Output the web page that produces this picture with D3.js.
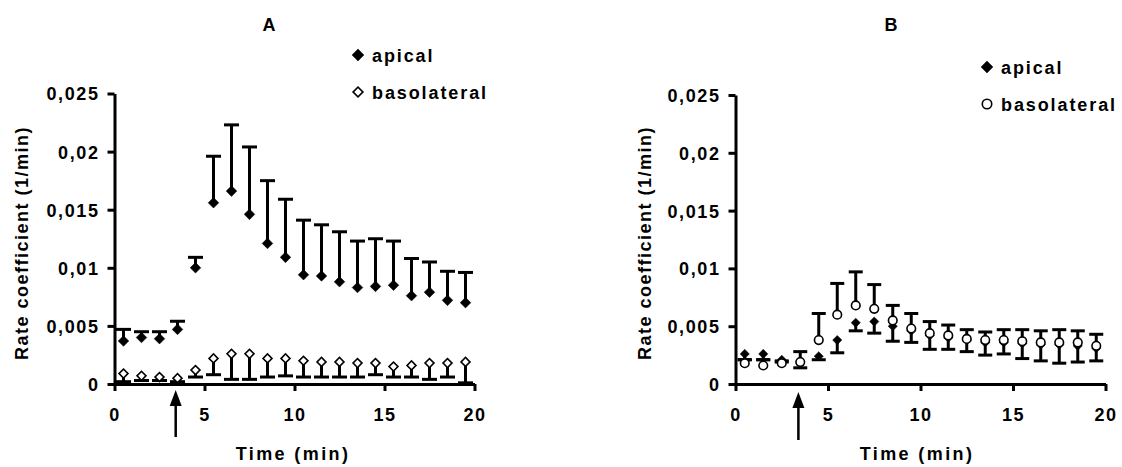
<!DOCTYPE html>
<html>
<head>
<meta charset="utf-8">
<script src="https://cdn.jsdelivr.net/npm/d3@7"></script>
<style>
  body { margin: 0; background: #fff; }
  svg text { font-family: Arial, "Liberation Sans", sans-serif; font-weight: bold; fill: #000; }
</style>
</head>
<body>
<div id="chart"></div>
<script>
// time points (min)
var times = [0.5, 1.5, 2.5, 3.5, 4.5, 5.5, 6.5, 7.5, 8.5, 9.5,
             10.5, 11.5, 12.5, 13.5, 14.5, 15.5, 16.5, 17.5, 18.5, 19.5];

// panel A
var aApical     = [0.0037, 0.0040, 0.0039, 0.0047, 0.0100, 0.0156, 0.0166, 0.0146, 0.0121, 0.0109,
                   0.0094, 0.0093, 0.0088, 0.0083, 0.0084, 0.0085, 0.0076, 0.0079, 0.0072, 0.0070];
var aApicalHigh = [0.0047, 0.0045, 0.0045, 0.0054, 0.0109, 0.0196, 0.0223, 0.0204, 0.0175, 0.0159,
                   0.0141, 0.0137, 0.0131, 0.0123, 0.0125, 0.0123, 0.0108, 0.0105, 0.0097, 0.0096];
var aBaso       = [0.0009, 0.0007, 0.0006, 0.0005, 0.0012, 0.0022, 0.0026, 0.0026, 0.0022, 0.0022,
                   0.0020, 0.0019, 0.0019, 0.0018, 0.0018, 0.0015, 0.0016, 0.0018, 0.0018, 0.0019];
var aBasoLow    = [0.0002, 0.0003, 0.0003, 0.0002, 0.0006, 0.0008, 0.0004, 0.0004, 0.0006, 0.0007,
                   0.0006, 0.0006, 0.0006, 0.0006, 0.0008, 0.0006, 0.0006, 0.0004, 0.0006, 0.0001];

// panel B
var bApical     = [0.0026, 0.0026, 0.0021, 0.0019, 0.0024, 0.0038, 0.0053, 0.0054, 0.0050, 0.0046,
                   0.0042, 0.0040, 0.0038, 0.0036, 0.0036, 0.0035, 0.0034, 0.0034, 0.0033, 0.0031];
var bApicalLow  = [0.0021, 0.0021, 0.0019, 0.0014, 0.0021, 0.0027, 0.0046, 0.0044, 0.0037, 0.0036,
                   0.0030, 0.0030, 0.0028, 0.0025, 0.0026, 0.0022, 0.0020, 0.0018, 0.0019, 0.0020];
var bBaso       = [0.0018, 0.0016, 0.0018, 0.0019, 0.0038, 0.0060, 0.0068, 0.0065, 0.0055, 0.0048,
                   0.0044, 0.0042, 0.0039, 0.0038, 0.0038, 0.0037, 0.0036, 0.0036, 0.0036, 0.0033];
var bBasoHigh   = [0.0021, 0.0021, 0.0020, 0.0028, 0.0061, 0.0087, 0.0097, 0.0086, 0.0068, 0.0061,
                   0.0054, 0.0051, 0.0047, 0.0045, 0.0047, 0.0047, 0.0046, 0.0047, 0.0046, 0.0043];

var xTicks = [0, 5, 10, 15, 20];
var yTicks = [0, 0.005, 0.01, 0.015, 0.02, 0.025];
var arrowTime = 3.4;
var seriesNames = ["apical", "basolateral"];

var width = 1122,
    height = 467;

var svg = d3.select("#chart").append("svg")
    .attr("width", width)
    .attr("height", height);

var fmt = d3.formatLocale({decimal: ",", thousands: ".", grouping: [3], currency: ["", ""]}).format("~g");

var diamond = d3.symbol().type(d3.symbolSquare);

function drawPanel(cfg) {
  var g = svg.append("g");

  var x = d3.scaleLinear().domain([0, 20]).range(cfg.xr);
  var y = d3.scaleLinear().domain([0, 0.025]).range(cfg.yr);

  // title
  g.append("text")
      .attr("x", cfg.titleX).attr("y", 31)
      .attr("text-anchor", "middle")
      .style("font-size", "18px")
      .text(cfg.title);

  // axes
  var xAxis = g.append("g")
      .attr("transform", "translate(0," + cfg.yr[0] + ")")
      .call(d3.axisBottom(x).tickValues(xTicks).tickSize(7).tickPadding(17).tickSizeOuter(0));
  var yAxis = g.append("g")
      .attr("transform", "translate(" + cfg.xr[0] + ",0)")
      .call(d3.axisLeft(y).tickValues(yTicks).tickFormat(fmt).tickSize(7).tickPadding(8).tickSizeOuter(0));

  [xAxis, yAxis].forEach(function(ax) {
    ax.select(".domain").attr("stroke", "#000").attr("stroke-width", 3);
    ax.selectAll(".tick line").attr("stroke", "#000").attr("stroke-width", 3);
    ax.selectAll(".tick text")
        .attr("fill", "#000")
        .style("font-size", "18px")
        .style("letter-spacing", "1.6px")
        .style("font-family", "Arial, 'Liberation Sans', sans-serif");
  });
  yAxis.selectAll(".tick text").attr("dy", "0.36em");

  // axis titles
  g.append("text")
      .attr("x", cfg.xLabelX).attr("y", 460)
      .attr("text-anchor", "middle")
      .style("font-size", "18px")
      .style("letter-spacing", "2.4px")
      .text("Time (min)");

  g.append("text")
      .attr("transform", "translate(" + cfg.yLabelX + ",243) rotate(-90)")
      .attr("text-anchor", "middle")
      .style("font-size", "18px")
      .style("letter-spacing", "1.5px")
      .text("Rate coefficient (1/min)");

  // arrow marking stimulation
  var ax0 = x(arrowTime);
  g.append("line")
      .attr("x1", ax0).attr("x2", ax0)
      .attr("y1", cfg.arrow[0] + 12).attr("y2", cfg.arrow[1])
      .attr("stroke", "#000").attr("stroke-width", 2.5);
  g.append("path")
      .attr("d", "M" + ax0 + "," + cfg.arrow[0] + "l-6,16h12z")
      .attr("fill", "#000");

  // series
  cfg.series.forEach(function(s) {
    var pts = times.map(function(t, i) { return {t: t, v: s.values[i], e: s.err[i]}; });
    var sg = g.append("g");

    sg.selectAll("line.stem").data(pts).enter().append("line")
        .attr("class", "stem")
        .attr("x1", function(d) { return x(d.t); })
        .attr("x2", function(d) { return x(d.t); })
        .attr("y1", function(d) { return y(d.v); })
        .attr("y2", function(d) { return y(d.e); })
        .attr("stroke", "#000").attr("stroke-width", 3);

    sg.selectAll("line.cap").data(pts).enter().append("line")
        .attr("class", "cap")
        .attr("x1", function(d) { return x(d.t) - cfg.capW / 2; })
        .attr("x2", function(d) { return x(d.t) + cfg.capW / 2; })
        .attr("y1", function(d) { return y(d.e); })
        .attr("y2", function(d) { return y(d.e); })
        .attr("stroke", "#000").attr("stroke-width", 3);

    sg.selectAll("path.mark").data(pts).enter().append("path")
        .attr("class", "mark")
        .attr("d", s.shape === "circle"
            ? d3.symbol().type(d3.symbolCircle).size(s.size)()
            : diamond.size(s.size)())
        .attr("transform", function(d) {
          return "translate(" + x(d.t) + "," + y(d.v) + ")" + (s.shape === "circle" ? "" : " rotate(45)");
        })
        .attr("fill", s.filled ? "#000" : "#fff")
        .attr("stroke", "#000")
        .attr("stroke-width", s.filled ? 0.5 : 1.6);
  });

  // legend
  var lg = g.append("g");
  cfg.series.forEach(function(s, i) {
    var ly = cfg.legend[1] + i * 37;
    lg.append("path")
        .attr("d", s.shape === "circle"
            ? d3.symbol().type(d3.symbolCircle).size(70)()
            : diamond.size(s.filled ? 70 : 48)())
        .attr("transform", "translate(" + cfg.legend[0] + "," + ly + ")" + (s.shape === "circle" ? "" : " rotate(45)"))
        .attr("fill", s.filled ? "#000" : "#fff")
        .attr("stroke", "#000")
        .attr("stroke-width", s.filled ? 0.5 : 1.6);
    lg.append("text")
        .attr("x", cfg.legend[0] + 14).attr("y", ly + 7)
        .style("font-size", "18px")
        .style("letter-spacing", "1.9px")
        .text(seriesNames[i]);
  });
}

drawPanel({
  title: "A", titleX: 269,
  xr: [114.5, 474.5], yr: [384, 93.5],
  xLabelX: 293, yLabelX: 28,
  arrow: [390, 437],
  capW: 15,
  legend: [358, 55],
  series: [
    {values: aApical, err: aApicalHigh, shape: "diamond", filled: true, size: 56},
    {values: aBaso, err: aBasoLow, shape: "diamond", filled: false, size: 40}
  ]
});

drawPanel({
  title: "B", titleX: 891,
  xr: [735.5, 1105.5], yr: [384, 95],
  xLabelX: 917, yLabelX: 651,
  arrow: [392, 440],
  capW: 14,
  legend: [987, 67],
  series: [
    {values: bApical, err: bApicalLow, shape: "diamond", filled: true, size: 42},
    {values: bBaso, err: bBasoHigh, shape: "circle", filled: false, size: 58}
  ]
});
</script>
</body>
</html>
